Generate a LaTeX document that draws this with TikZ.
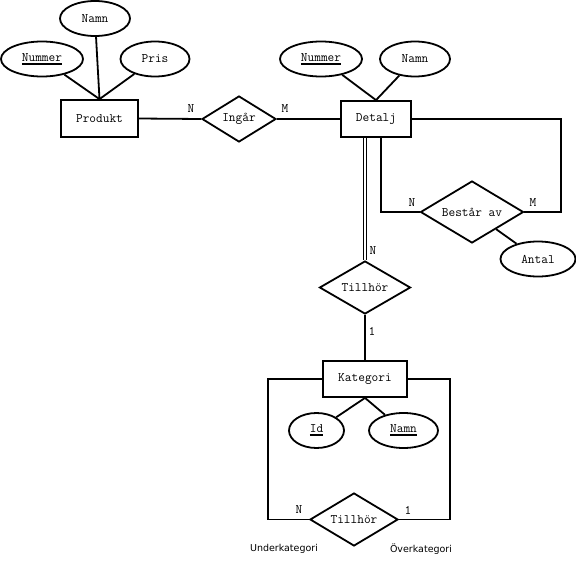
\documentclass[tikz,border=0pt]{standalone}
\usepackage{fontspec}
\newfontfamily\rolefont{DejaVu Sans}
\usepackage{tikz}
\usetikzlibrary{shapes.geometric, positioning, calc}

\newcommand{\keyattr}[1]{\setbox0\hbox{#1}\leavevmode\vtop{\copy0\kern1.5pt\hrule height 1.6pt width \wd0}}

\tikzset{
  entity/.style={draw, line width=1.8pt, rectangle, inner sep=0pt, font=\fontsize{13}{15}\selectfont\ttfamily},
  attrib/.style={draw, line width=1.8pt, ellipse, inner sep=0pt, minimum height=35pt, font=\fontsize{13}{15}\selectfont\ttfamily},
  relation/.style={draw, line width=1.8pt, diamond, aspect=1.7, inner sep=0pt, font=\fontsize{13}{15}\selectfont\ttfamily},
  card/.style={font=\fontsize{13}{15}\selectfont\ttfamily, inner sep=0pt},
  role/.style={font=\fontsize{9.5}{11}\selectfont\rolefont, inner sep=0pt},
  conn/.style={line width=1.8pt}
}

\begin{document}
\begin{tikzpicture}[x=1pt, y=-1pt]
  \useasboundingbox (0,0) rectangle (576,560);

  % Produkt
  \node[entity, minimum width=77pt, minimum height=37pt] (prod) at (99.5,118.5) {Produkt};
  \node[attrib, minimum width=70pt] (prodNamn) at (95,18.5) {Namn};
  \node[attrib, minimum width=82pt] (prodNummer) at (42,59) {\keyattr{Nummer}};
  \node[attrib, minimum width=69pt] (prodPris) at (155,59) {Pris};
  \draw[conn] (prod.north) -- (prodNamn);
  \draw[conn] (prod.north) -- (prodNummer);
  \draw[conn] (prod.north) -- (prodPris);

  % Ingår
  \node[relation, minimum width=74pt, minimum height=46pt] (ingar) at (239,119) {Ingår};
  \draw[conn] (prod.east) -- (ingar.west);
  \node[card] (ingarN) at (191,109) {N};

  % Detalj
  \node[entity, minimum width=70pt, minimum height=36pt] (detalj) at (376,119) {Detalj};
  \node[attrib, minimum width=82pt] (detNummer) at (321,59) {\keyattr{Nummer}};
  \node[attrib, minimum width=70pt] (detNamn) at (415,59) {Namn};
  \draw[conn] (detalj.north) -- (detNummer);
  \draw[conn] (detalj.north) -- (detNamn);
  \draw[conn] (ingar.east) -- (detalj.west);
  \node[card] (ingarM) at (285,109) {M};

  % Består av
  \node[relation, minimum width=103pt, minimum height=62pt] (bestar) at (472,212) {Består av};
  \node[attrib, minimum width=75pt] (antal) at (538,259) {Antal};
  \draw[conn] (bestar) -- (antal);
  \draw[conn] ([xshift=5pt]detalj.south) |- (bestar.west);
  \draw[conn] (detalj.east) -- ++(149,0) |- (bestar.east);
  \node[card] (bestarN) at (412,203) {N};
  \node[card] (bestarM) at (533,203) {M};

  % Tillhör
  \node[relation, minimum width=91pt, minimum height=53pt] (tillhor) at (365,287.5) {Tillhör};
  \draw[line width=1.3pt, double, double distance=2.2pt] ([xshift=-11pt]detalj.south) -- (tillhor.north);
  \node[card] (tillhorN) at (373,251) {N};

  % Kategori
  \node[entity, minimum width=84pt, minimum height=36pt] (kategori) at (365,379) {Kategori};
  \draw[conn] (tillhor.south) -- (kategori.north);
  \node[card] (tillhor1) at (372,331) {1};
  \node[attrib, minimum width=55pt] (katId) at (316.5,430.5) {\keyattr{Id}};
  \node[attrib, minimum width=69pt] (katNamn) at (403.5,430.5) {\keyattr{Namn}};
  \draw[conn] (kategori.south) -- (katId);
  \draw[conn] (kategori.south) -- (katNamn);

  % Tillhör (rekursiv)
  \node[relation, minimum width=88pt, minimum height=53pt] (tillhorKat) at (354,519.5) {Tillhör};
  \draw[conn] (kategori.west) -- ++(-54,0) |- (tillhorKat.west);
  \draw[conn] (kategori.east) -- ++(42,0) |- (tillhorKat.east);
  \node[card] (katN) at (299,510) {N};
  \node[card] (kat1) at (408,510) {1};
  \node[role] (under) at (284,549) {Underkategori};
  \node[role] (over) at (421,549) {Överkategori};
\end{tikzpicture}
\end{document}
